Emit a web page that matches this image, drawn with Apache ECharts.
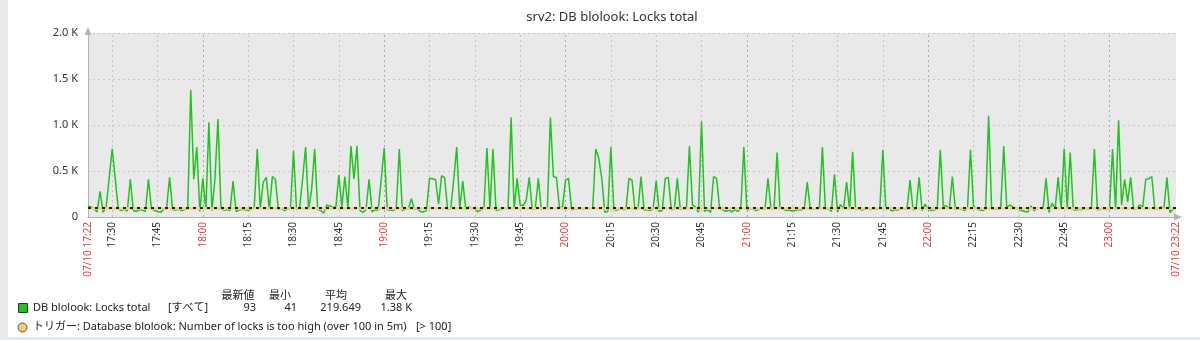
<!DOCTYPE html>
<html>
<head>
<meta charset="utf-8">
<script src="https://cdn.jsdelivr.net/npm/echarts@6/dist/echarts.min.js"></script>
<style>
html,body{margin:0;padding:0;background:#fff;}
#chart{width:1200px;height:340px;}
</style>
</head>
<body>
<div id="chart"></div>
<script>
// ---- data ----
const titleText = 'srv2: DB blolook: Locks total';
const dateLabel = '07/10';
const startTime = '17:22';
const endTime = '23:22';
const xTickLabels = ['17:30','17:45','18:00','18:15','18:30','18:45','19:00','19:15','19:30','19:45',
  '20:00','20:15','20:30','20:45','21:00','21:15','21:30','21:45','22:00','22:15','22:30','22:45','23:00'];
const yTicks = [0, 500, 1000, 1500, 2000];
const thresholdValue = 100;
// one value per minute, 17:22 .. 23:22
const locksTotal = [
  120,110,90,55,280,50,110,420,740,420,
  90,70,85,65,410,70,60,80,75,60,
  410,90,70,60,50,80,95,430,80,75,
  85,70,80,90,1380,410,760,60,420,80,
  1030,70,410,1065,90,75,80,70,390,60,
  75,85,80,70,85,100,740,90,380,430,
  80,440,410,80,90,70,85,95,720,80,
  100,410,760,80,300,740,80,70,41,130,
  120,110,105,455,110,440,100,770,415,770,
  70,50,80,410,55,80,75,400,750,80,
  75,70,90,740,70,85,90,200,80,90,
  60,55,70,420,415,405,140,450,425,80,
  90,400,760,90,390,80,110,90,95,55,
  80,100,750,85,740,70,80,85,95,90,
  1080,85,420,130,125,180,430,80,90,420,
  80,95,90,1080,440,430,100,110,400,420,
  80,85,90,95,85,100,90,95,740,640,
  420,50,60,760,80,75,90,80,85,420,
  400,80,90,440,75,80,70,90,395,60,
  70,420,430,80,85,420,80,90,85,770,
  130,110,50,1040,60,80,50,440,420,90,
  80,60,75,55,80,60,90,760,80,85,
  90,70,80,90,85,420,80,95,700,90,
  85,70,75,65,70,80,75,90,380,80,
  90,85,95,760,85,90,60,465,55,135,
  90,380,80,710,80,90,75,85,95,80,
  90,85,95,730,80,90,65,80,75,95,
  90,85,400,80,85,430,70,140,80,70,
  75,90,730,120,120,90,440,80,90,85,
  70,90,730,120,90,75,70,85,1100,85,
  90,80,95,770,100,130,110,95,80,70,
  60,55,120,70,90,100,90,420,50,150,
  90,430,90,745,90,700,80,75,85,80,
  90,85,95,740,80,85,90,80,95,740,
  80,1050,130,410,165,430,80,90,130,110,
  410,415,440,80,90,110,95,430,50,85,
  93
];
const legendHeaders = ['最新値', '最小', '平均', '最大'];
const legendItemName = 'DB blolook: Locks total';
const legendItemScope = '[すべて]';
const legendStats = ['93', '41', '219.649', '1.38 K'];
const triggerText = 'トリガー: Database blolook: Number of locks is too high (over 100 in 5m)';
const triggerCond = '[> 100]';

// ---- build ----
const toMin = s => { const p = s.split(':'); return (+p[0]) * 60 + (+p[1]); };
const startMinute = toMin(startTime);
const endMinute = toMin(endTime);
const seriesData = locksTotal.map((v, i) => [startMinute + i, v]);
const tickMinutes = xTickLabels.map(toMin);
const labelMinutes = [startMinute].concat(tickMinutes, [endMinute]);
const pad = n => (n < 10 ? '0' : '') + n;
const fmtTime = m => pad(Math.floor(m / 60)) + ':' + pad(m % 60);
const isEdge = v => { const n = Number(v); return n === startMinute || n === endMinute; };

const FONT = '"Noto Sans", "DejaVu Sans", sans-serif';
const CJK = '"Noto Sans", "Noto Sans CJK JP", sans-serif';

const chart = echarts.init(document.getElementById('chart'), null, {renderer: 'canvas'});

const headerX = [238, 280, 336, 396];
const statX = [256, 297, 361, 412];

const graphics = [
  {type: 'rect', left: 0, top: 0, shape: {width: 8, height: 340}, style: {fill: '#e8ebee'}, silent: true},
  {type: 'rect', left: 0, top: 337, shape: {width: 1200, height: 3}, style: {fill: '#e8ebee'}, silent: true},
  {type: 'text', x: 612, y: 17, style: {text: titleText, font: '13px ' + FONT, fill: '#333', align: 'center', verticalAlign: 'middle'}},
];
legendHeaders.forEach((h, i) => graphics.push({type: 'text', x: headerX[i], y: 296, style: {text: h, font: '11px ' + CJK, fill: '#222', align: 'center', verticalAlign: 'middle'}}));
graphics.push({type: 'rect', shape: {x: 18.5, y: 303.5, width: 9, height: 9}, style: {fill: '#1ec41e', stroke: '#333', lineWidth: 1}});
graphics.push({type: 'text', x: 33, y: 308, style: {text: legendItemName, font: '11px ' + FONT, fill: '#222', align: 'left', verticalAlign: 'middle'}});
graphics.push({type: 'text', x: 168, y: 308, style: {text: legendItemScope, font: '11px ' + CJK, fill: '#222', align: 'left', verticalAlign: 'middle'}});
legendStats.forEach((s, i) => graphics.push({type: 'text', x: statX[i], y: 308, style: {text: s, font: '11px ' + FONT, fill: '#222', align: 'right', verticalAlign: 'middle'}}));
graphics.push({type: 'circle', shape: {cx: 22.5, cy: 327.5, r: 4.5}, style: {fill: '#ffc878', stroke: '#555', lineWidth: 1}});
graphics.push({type: 'text', x: 33, y: 327, style: {text: triggerText, font: '11px ' + CJK, fill: '#222', align: 'left', verticalAlign: 'middle'}});
graphics.push({type: 'text', x: 416, y: 327, style: {text: triggerCond, font: '11px ' + FONT, fill: '#222', align: 'left', verticalAlign: 'middle'}});

// vertical dotted grid lines at each 15-minute tick (hour lines a bit darker)
const vGrid = tickMinutes.map(m => ({
  xAxis: m,
  lineStyle: {color: m % 60 === 0 ? '#a9a9a9' : '#c4c4c4', type: [2, 3], width: 1}
}));

const option = {
  animation: false,
  backgroundColor: '#ffffff',
  grid: {left: 88, right: 24, top: 33, bottom: 123, show: true, backgroundColor: '#e9e9e9', borderWidth: 0},
  xAxis: {
    type: 'value',
    min: startMinute,
    max: endMinute,
    axisLine: {show: true, lineStyle: {color: '#b4b4b4', width: 1}, symbol: ['none', 'triangle'], symbolSize: [7, 8], symbolOffset: [0, 2]},
    axisTick: {show: false, customValues: labelMinutes},
    splitLine: {show: false},
    axisLabel: {
      customValues: labelMinutes,
      rotate: 90,
      margin: 5,
      fontSize: 10,
      fontFamily: FONT,
      showMinLabel: true,
      showMaxLabel: true,
      hideOverlap: false,
      formatter: v => isEdge(v) ? dateLabel + ' ' + fmtTime(Number(v)) : fmtTime(Number(v)),
      color: v => (isEdge(v) || Number(v) % 60 === 0) ? '#e03c3c' : '#333'
    }
  },
  yAxis: {
    type: 'value',
    min: yTicks[0],
    max: yTicks[yTicks.length - 1],
    interval: yTicks[1] - yTicks[0],
    axisLine: {show: true, lineStyle: {color: '#b4b4b4', width: 1}, symbol: ['none', 'triangle'], symbolSize: [7, 8], symbolOffset: [0, 2]},
    axisTick: {show: false},
    splitLine: {show: true, lineStyle: {color: '#c8c8c8', type: [2, 3], width: 1}},
    axisLabel: {
      margin: 10,
      fontSize: 11,
      fontFamily: FONT,
      color: '#333',
      formatter: v => v === 0 ? '0' : (v / 1000).toFixed(1) + ' K'
    }
  },
  series: [{
    type: 'line',
    data: [],
    silent: true,
    z: 1,
    markLine: {silent: true, symbol: ['none', 'none'], label: {show: false}, z: 1, data: vGrid}
  }, {
    type: 'line',
    data: seriesData,
    showSymbol: false,
    symbol: 'none',
    lineStyle: {color: '#1fc41f', width: 1.5},
    itemStyle: {color: '#1fc41f'},
    z: 3,
    markLine: {
      silent: true,
      symbol: ['none', 'none'],
      label: {show: false},
      z: 4,
      data: [
        {yAxis: thresholdValue, lineStyle: {color: '#f7d27a', type: 'solid', width: 2.5}},
        {yAxis: thresholdValue, lineStyle: {color: '#222', type: [3, 4], width: 1.8}}
      ]
    }
  }],
  graphic: graphics
};
chart.setOption(option);
</script>
</body>
</html>
